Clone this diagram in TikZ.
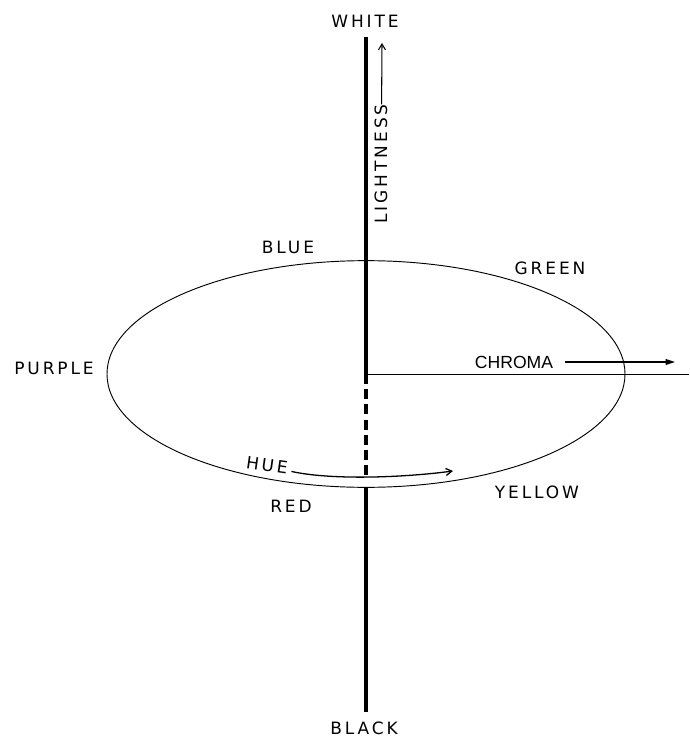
\documentclass[tikz,border=0pt]{standalone}
\usepackage{fontspec}
\newfontfamily\letterfont[LetterSpace=17]{DejaVu Sans}
\newfontfamily\chromafont{Liberation Sans}
\usetikzlibrary{arrows.meta, positioning, calc}

\tikzset{
  huelabel/.style={font=\letterfont\fontsize{14.5}{16}\selectfont, inner sep=0pt},
  axisline/.style={line width=2.6pt},
  thinline/.style={line width=0.8pt},
  pointer/.style={line width=1.1pt, -{Straight Barb[length=5pt, width=6pt]}}
}

\begin{document}
\begin{tikzpicture}[x=0.03cm, y=-0.03cm]
  \useasboundingbox (0,0) rectangle (689,739);

  % Points on the axis
  \coordinate (top) at (366,37);
  \coordinate (centre) at (366,374);
  \coordinate (huecross) at (366,477);
  \coordinate (rimlow) at (366,487.5);
  \coordinate (bottom) at (366,712);
  \coordinate (chromaend) at (689,374);

  % Hue circle
  \draw[thinline] (centre) ellipse [x radius=7.77cm, y radius=3.4cm];

  % Lightness axis
  \draw[axisline] (top) -- (centre);
  \draw[axisline, dash pattern=on 8.5pt off 4.5pt] (centre) -- (huecross);
  \draw[axisline] (rimlow) -- (bottom);

  % Chroma radius
  \draw[thinline] (centre) -- (chromaend);

  % End labels
  \node[huelabel] (white) at (365,21) {WHITE};
  \node[huelabel] (black) at (364,728) {BLACK};

  % Hue names
  \node[huelabel] (blue) at (288,247) {BLUE};
  \node[huelabel] (green) at (550,268) {GREEN};
  \node[huelabel] (purple) at (54,368) {PURPLE};
  \node[huelabel] (red) at (291,506) {RED};
  \node[huelabel] (yellow) at (537,492) {YELLOW};

  % Lightness arrow
  \node[huelabel, rotate=90] (lightness) at (381,164) {LIGHTNESS};
  \coordinate (lighttip) at (382,43);
  \draw[pointer, line width=0.9pt] ([xshift=0.5pt]lightness.east) -- (lighttip);

  % Chroma arrow
  \node[font=\chromafont\fontsize{15}{17}\selectfont, inner sep=0pt] (chroma) at (514,362) {CHROMA};
  \coordinate (chromatip) at (675,362);
  \draw[line width=1.1pt, -{Triangle[length=8pt, width=5pt]}] ([xshift=10pt]chroma.east) -- (chromatip);

  % Hue arrow
  \node[huelabel, rotate=-8] (hue) at (267,465) {HUE};
  \coordinate (hueend) at (453,471);
  \draw[pointer] ([xshift=3pt, yshift=-3pt]hue.east) .. controls (330,480) and (400,478) .. (hueend);
\end{tikzpicture}
\end{document}
